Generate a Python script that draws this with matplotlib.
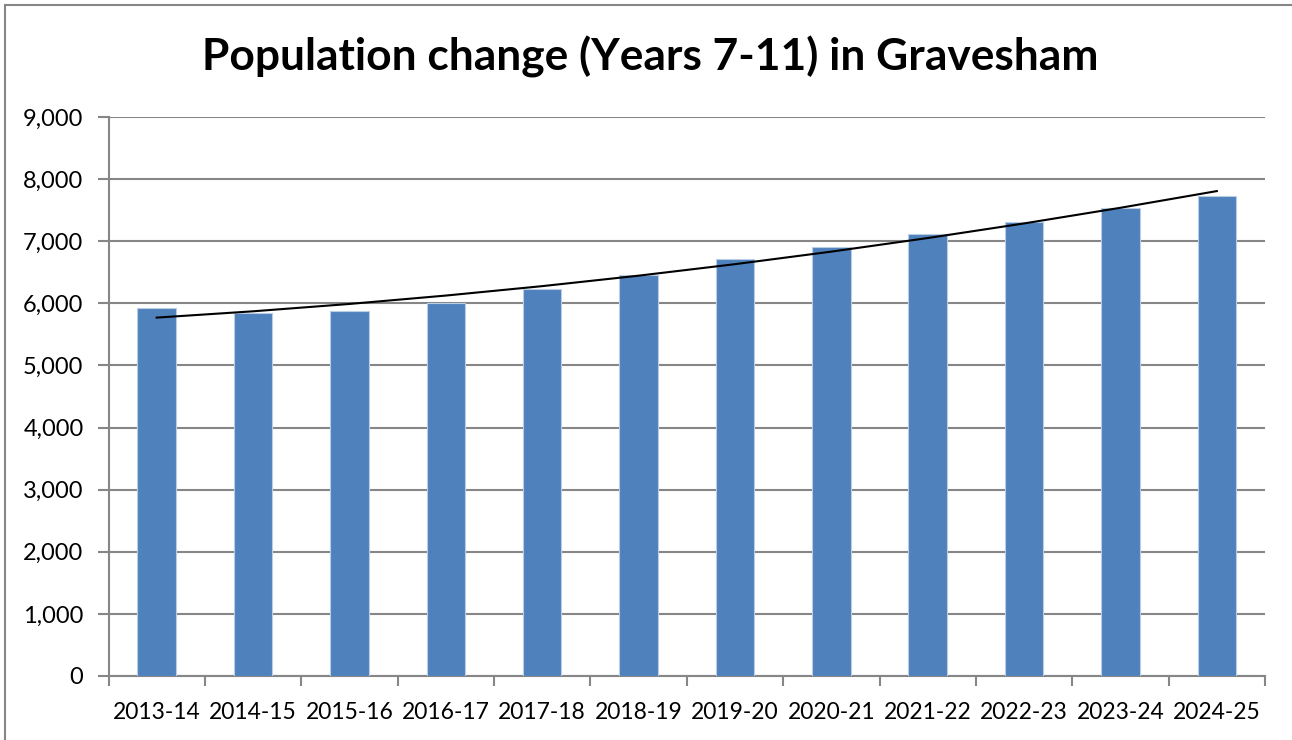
import numpy as np
import matplotlib
matplotlib.use("Agg")
import matplotlib.pyplot as plt
from matplotlib.patches import Rectangle
from matplotlib.ticker import FuncFormatter, FixedLocator

categories = ["2013-14", "2014-15", "2015-16", "2016-17", "2017-18", "2018-19",
              "2019-20", "2020-21", "2021-22", "2022-23", "2023-24", "2024-25"]
population = [5920, 5850, 5870, 6000, 6225, 6455, 6710, 6913, 7118, 7306, 7532, 7726]
title = "Population change (Years 7-11) in Gravesham"

plt.rcParams['font.family'] = ['Lato', 'DejaVu Sans']

fig = plt.figure(figsize=(12.92, 7.40), dpi=100)
ax = fig.add_axes([108.5/1292, 64/740, (1265-108.5)/1292, (676-117)/740])

x = np.arange(len(categories))
ax.bar(x, population, width=0.4, color="#4F81BD", edgecolor="#B9CDE5", linewidth=0.8, zorder=3)

# polynomial (order 2) trendline
coef = np.polyfit(x, population, 2)
ax.plot(x, np.polyval(coef, x), color="black", linewidth=1.5, zorder=4)

ax.set_xlim(-0.5, len(categories) - 0.5)
ax.set_ylim(0, 9000)
ax.set_yticks(np.arange(0, 9001, 1000))
ax.yaxis.set_major_formatter(FuncFormatter(lambda v, p: f"{int(v):,}"))
ax.grid(axis="y", color="#868686", linewidth=1.5, zorder=0)

ax.set_xticks(x)
ax.set_xticklabels(categories, fontsize=16.5)
ax.xaxis.set_minor_locator(FixedLocator(np.arange(-0.5, len(categories), 1.0)))
ax.tick_params(axis="x", which="major", length=0, pad=19)
ax.tick_params(axis="x", which="minor", length=7, width=1.5, color="#868686")
ax.tick_params(axis="y", length=8, width=1.5, color="#868686", labelsize=17, pad=10)

for s in ["top", "right"]:
    ax.spines[s].set_visible(False)
for s in ["left", "bottom"]:
    ax.spines[s].set_color("#868686")
    ax.spines[s].set_linewidth(1.5)

fig.text(650/1292, 1 - 57/740, title, ha="center", va="center", fontsize=31.9, fontweight="bold")

# chart area border
fig.patches.append(Rectangle((5/1292, -0.1), 1.2, 1 - 5.5/740 + 0.1, transform=fig.transFigure,
                             fill=False, edgecolor="#868686", linewidth=1.5))

fig.savefig("out.png", dpi=100)
